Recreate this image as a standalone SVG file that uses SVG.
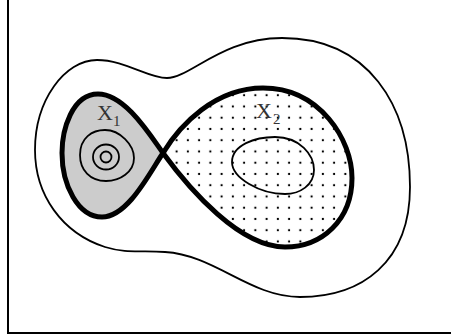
<svg xmlns="http://www.w3.org/2000/svg" width="451" height="335" viewBox="0 0 451 335">
<defs>
<style>
.thin{fill:none;stroke:#000;stroke-width:1.8}
.thick{stroke:#000;stroke-width:5;stroke-linejoin:round}
.lbl{font-family:"Liberation Serif","DejaVu Serif",serif;fill:#333}
</style>
<pattern id="dots" patternUnits="userSpaceOnUse" x="171" y="134.6" width="11.25" height="11.25">
<rect x="4.6" y="4.6" width="2" height="2" fill="#000"/>
</pattern>
</defs>
<rect x="0" y="0" width="451" height="335" fill="#fff"/>
<g id="frame"><path d="M8,0 V333 H451" fill="none" stroke="#000" stroke-width="2"/></g>
<g id="outer"><path class="thin" d="M35,150 C35,100 65,60 97,60 C125,60 148,78 167,78 C190,78 222,38 282,38 C368,38 410,105 410,187 C410,262 362,297 300,297 C250,297 215,255 165,252 C140,250 128,254 105,247 C62,233 35,195 35,150 Z"/></g>
<g id="X2"><path class="thick" fill="url(#dots)" d="M163,153 C180,125 215,88 263,88 C320,88 352,140 352,178 C352,220 322,247 285,247 C240,247 190,190 163,153 Z"/>
<path class="thin" d="M232,162 C232,145 255,137 275,137 C300,137 314,155 314,170 C314,185 300,194 285,194 C260,194 232,178 232,162 Z"/>
<text class="lbl" x="256" y="118" font-size="22">X</text><text class="lbl" x="273" y="124" font-size="15">2</text></g>
<g id="X1"><path class="thick" fill="#ccc" d="M163,153 C150,135 125,94 98,94 C72,94 62,130 62,153 C62,185 78,217 102,217 C128,217 150,172 163,153 Z"/>
<path class="thin" d="M80,155 C80,138 92,130 105,130 C120,130 134,145 134,158 C134,172 120,181 106,181 C90,181 80,170 80,155 Z"/>
<ellipse class="thin" cx="106" cy="157" rx="13" ry="12.5"/>
<circle class="thin" cx="106" cy="157" r="5.5"/>
<text class="lbl" x="97" y="120" font-size="22">X</text><text class="lbl" x="113" y="126" font-size="15">1</text></g>
</svg>
